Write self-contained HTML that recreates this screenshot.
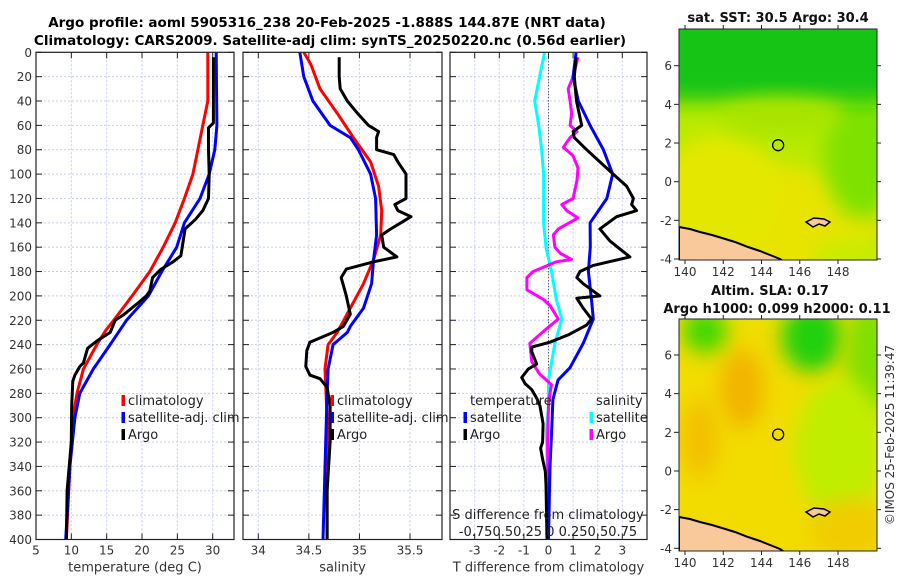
<!DOCTYPE html>
<html><head><meta charset="utf-8"><style>
html,body{margin:0;padding:0;background:#fff;}
svg{display:block;font-family:"DejaVu Sans","Liberation Sans",sans-serif;}
</style></head><body>
<svg id="chart" width="900" height="580" viewBox="0 0 900 580" xmlns="http://www.w3.org/2000/svg">
<defs>
<filter id="blur8" x="-50%" y="-50%" width="200%" height="200%"><feGaussianBlur stdDeviation="10"/></filter>
<clipPath id="clipMap1"><rect x="679" y="29" width="198" height="231"/></clipPath>
<clipPath id="clipMap2"><rect x="679" y="319" width="198" height="232"/></clipPath>
<clipPath id="clipP1"><rect x="36" y="52" width="198" height="488"/></clipPath>
<clipPath id="clipP2"><rect x="243" y="52" width="199" height="488"/></clipPath>
<clipPath id="clipP3"><rect x="450" y="52" width="197" height="488"/></clipPath>
</defs>
<text x="327" y="27" text-anchor="middle" font-size="13.5" font-weight="bold">Argo profile: aoml 5905316_238 20-Feb-2025 -1.888S 144.87E (NRT data)</text>
<text x="330" y="45" text-anchor="middle" font-size="13.5" font-weight="bold">Climatology: CARS2009. Satellite-adj clim: synTS_20250220.nc (0.56d earlier)</text>
<g id="g1"></g>
<g id="g2"></g>
<g id="g3"></g>
<g id="m1"></g>
<g id="m2"></g>
<text transform="translate(894,435) rotate(-90)" text-anchor="middle" font-size="12" fill="#333">©IMOS 25-Feb-2025 11:39:47</text>
</svg>
<script>
// ---------- data ----------
const depthTicks = [0,20,40,60,80,100,120,140,160,180,200,220,240,260,280,300,320,340,360,380,400];
const tTicks = [5,10,15,20,25,30];
const sTicks = [34,34.5,35,35.5];
const dTicks = [-3,-2,-1,0,1,2,3];

const tClimDepth = [0,40,60,80,100,120,140,160,180,200,220,228,240,260,280,300,340,400];
const tClim = [29.3,29.3,28.6,27.9,27.2,26.0,24.7,23.0,21.1,18.6,16.0,14.9,13.6,11.7,10.8,10.2,9.8,9.3];
const tSatDepth = [0,60,80,100,120,140,160,180,200,220,240,260,280,300,340,400];
const tSat = [30.5,30.6,30.3,29.5,28.2,26.0,24.9,22.8,20.9,17.8,15.5,13.1,11.2,10.5,9.8,9.2];
const tArgoDepth = [4,58,62,80,100,120,130,137,145,167,172,178,185,196,200,205,215,220,230,237,243,255,258,265,270,290,320,340,360,400];
const tArgo = [30.1,30.1,29.4,29.4,29.5,29.4,28.6,27.6,26.1,25.5,24.4,22.7,21.5,21.1,20.6,19.6,17.5,16.2,15.5,13.6,12.3,11.7,11.2,10.5,10.2,10.05,10.0,9.7,9.4,9.3];

const sClimDepth = [0,10,30,50,70,90,110,130,150,170,190,210,230,240,260,300,400];
const sClim = [34.45,34.52,34.61,34.78,34.94,35.11,35.19,35.22,35.21,35.14,35.04,34.91,34.78,34.69,34.66,34.68,34.68];
const sSatDepth = [0,10,20,40,60,70,80,100,120,150,170,190,210,225,230,240,260,280,400];
const sSat = [34.41,34.43,34.45,34.54,34.71,34.91,34.99,35.11,35.16,35.17,35.14,35.12,35.04,34.91,34.88,34.74,34.69,34.68,34.64];
const sArgoDepth = [4,20,30,40,50,60,65,70,80,84,90,100,120,125,130,135,145,150,160,168,172,178,185,200,215,225,230,238,245,258,265,268,275,290,320,360,400];
const sArgo = [34.80,34.80,34.81,34.88,34.98,35.09,35.19,35.17,35.17,35.34,35.38,35.46,35.46,35.35,35.38,35.51,35.31,35.22,35.24,35.37,35.14,34.87,34.82,34.87,34.91,34.84,34.74,34.51,34.48,34.47,34.51,34.61,34.68,34.71,34.71,34.68,34.68];

const dTSatDepth = [0,20,40,60,80,100,120,140,160,180,203,219,239,259,269,285,310,340,400];
const dTSat = [1.12,1.0,1.21,1.69,2.23,2.61,2.37,1.69,1.7,1.62,1.75,1.82,1.41,0.87,0.39,0.18,0.13,0.06,0];
const dTArgoDepth = [4,20,40,60,65,70,80,90,100,110,120,125,130,135,145,155,168,175,180,185,190,200,202,210,219,224,232,238,242,246,256,260,267,272,277,284,290,305,320,325,334,344,355,400];
const dTArgo = [1.12,1.05,1.14,1.35,1.0,1.05,1.55,2.09,2.63,3.18,3.45,3.38,3.58,2.77,2.09,2.5,3.31,1.82,1.28,1.15,1.41,2.09,1.15,1.41,1.75,1.55,0.8,0.06,-0.68,-0.68,-0.48,-0.82,-1.09,-0.95,-0.68,-0.48,-0.35,-0.22,-0.24,-0.32,-0.24,-0.13,-0.1,-0.06];
const dSSatDepth = [0,20,40,60,80,100,140,160,180,203,219,239,269,290,310,400];
const dSSat = [-0.04,-0.09,-0.14,-0.10,-0.07,-0.05,-0.05,-0.025,0.03,0.08,0.135,0.065,0,0,-0.02,0];
const dSArgoDepth = [4,20,30,40,50,60,65,70,78,85,95,105,120,125,130,136,145,150,160,165,170,172,180,185,195,203,208,219,227,239,254,264,273,280,290,320,400];
const dSArgo = [0.30,0.25,0.20,0.22,0.235,0.22,0.29,0.22,0.15,0.25,0.30,0.29,0.25,0.135,0.185,0.30,0.10,0.05,0.065,0.12,0.235,0.08,-0.155,-0.22,-0.22,-0.05,0.015,0.10,-0.02,-0.19,-0.17,-0.09,0.03,0.015,0,-0.01,0];

const lonTicks = [140,142,144,146,148];
const latTicks = [-4,-2,0,2,4,6];
const argoLon = 144.87, argoLat = 1.888;

// ---------- helpers ----------
const NS = "http://www.w3.org/2000/svg";
function mk(tag, attrs, parent){const e=document.createElementNS(NS,tag);for(const k in attrs)e.setAttribute(k,attrs[k]);parent.appendChild(e);return e;}
const Y0=52.3, Y1=539.5;
function yD(d){return Y0+(Y1-Y0)*d/400;}
function lin(d0,d1,r0,r1){return v=>r0+(v-d0)*(r1-r0)/(d1-d0);}

const xT = lin(5,30,36,212.7);
const xS = lin(34,35.5,258.3,410);
const xD = lin(0,3,548.5,622.3);
const xDS = v => xD(v*4);

function panel(g, x0, x1, xTickVals, xf, labels, xlabel, showDepth){
  for(const t of xTickVals){
    const x=xf(t);
    const l=mk('line',{x1:x,x2:x,y1:Y0,y2:Y1,stroke:'#c6cdf0','stroke-width':1,'stroke-dasharray':'2,2'},g);
    
    
  }
  for(const d of depthTicks){
    const y=yD(d);
    const l=mk('line',{x1:x0,x2:x1,y1:y,y2:y,stroke:'#c6cdf0','stroke-width':1,'stroke-dasharray':'2,2'},g);
    
    
    mk('line',{x1:x0,x2:x0+6,y1:y,y2:y,stroke:'#222','stroke-width':1},g);
    mk('line',{x1:x1-6,x2:x1,y1:y,y2:y,stroke:'#222','stroke-width':1},g);
    if(showDepth){
      const t=mk('text',{x:x0-4,y:y+4.5,'text-anchor':'end','font-size':12,fill:'#333'},g);
      t.textContent=d;
      
      
    }
  }
  xTickVals.forEach((t,i)=>{
    const x=xf(t);
    mk('line',{x1:x,x2:x,y1:Y1,y2:Y1-6,stroke:'#222','stroke-width':1},g);
    mk('line',{x1:x,x2:x,y1:Y0,y2:Y0+6,stroke:'#222','stroke-width':1},g);
    const tx=mk('text',{x:x,y:Y1+15,'text-anchor':'middle','font-size':12,fill:'#333'},g);
    tx.textContent=labels[i];
    
    
  });
  const xl=mk('text',{x:(x0+x1)/2,y:Y1+32,'text-anchor':'middle','font-size':13,fill:'#333'},g);
  xl.textContent=xlabel;
  
  
}
function frame(g,x0,x1){
  const r=mk('rect',{x:x0,y:Y0,width:x1-x0,height:Y1-Y0,fill:'none',stroke:'#222','stroke-width':1.2},g);
  
  
}
function line(g, depths, vals, xf, color, name, clip){
  const pts=depths.map((d,i)=>xf(vals[i]).toFixed(1)+','+yD(d).toFixed(1)).join(' ');
  const p=mk('polyline',{points:pts,fill:'none',stroke:color,'stroke-width':3,'stroke-linejoin':'round','clip-path':'url(#'+clip+')'},g);
  
  
}
function legend(g, x, y, color, label){
  mk('rect',{x:x-1.5,y:y-10,width:3.5,height:11,fill:color},g);
  const t=mk('text',{x:x+5,y:y,'font-size':13,fill:'#222'},g);
  t.textContent=label;
  
  
}

// panel 1
const g1=document.getElementById('g1');
panel(g1,36,234,tTicks,xT,tTicks.map(String),'temperature (deg C)',true);
line(g1,tClimDepth,tClim,xT,'#ff0000','climatology-temp-line','clipP1');
line(g1,tSatDepth,tSat,xT,'#0000ff','satellite-temp-line','clipP1');
line(g1,tArgoDepth,tArgo,xT,'#000000','argo-temp-line','clipP1');
frame(g1,36,234);
legend(g1,123,405,'#ff0000','climatology');
legend(g1,123,422,'#0000ff','satellite-adj. clim');
legend(g1,123,439,'#000000','Argo');

// panel 2
const g2=document.getElementById('g2');
panel(g2,243,442,sTicks,xS,['34','34.5','35','35.5'],'salinity',false);
line(g2,sClimDepth,sClim,xS,'#ff0000','climatology-salinity-line','clipP2');
line(g2,sSatDepth,sSat,xS,'#0000ff','satellite-salinity-line','clipP2');
line(g2,sArgoDepth,sArgo,xS,'#000000','argo-salinity-line','clipP2');
frame(g2,243,442);
legend(g2,332,405,'#ff0000','climatology');
legend(g2,332,422,'#0000ff','satellite-adj. clim');
legend(g2,332,439,'#000000','Argo');

// panel 3
const g3=document.getElementById('g3');
panel(g3,450,647,dTicks,xD,dTicks.map(String),'T difference from climatology',false);
mk('line',{x1:xD(0),x2:xD(0),y1:Y0,y2:Y1,stroke:'#333','stroke-width':1,'stroke-dasharray':'1,2'},g3);
line(g3,dSSatDepth,dSSat,xDS,'#00ffff','satellite-salinity-diff-line','clipP3');
line(g3,dSArgoDepth,dSArgo,xDS,'#ff00ff','argo-salinity-diff-line','clipP3');
line(g3,dTSatDepth,dTSat,xD,'#0000ff','satellite-temp-diff-line','clipP3');
line(g3,dTArgoDepth,dTArgo,xD,'#000000','argo-temp-diff-line','clipP3');
frame(g3,450,647);
(function(){
  let t=mk('text',{x:470,y:405,'font-size':13,fill:'#222'},g3);t.textContent='temperature';
  
  
  t=mk('text',{x:596,y:405,'font-size':13,fill:'#222'},g3);t.textContent='salinity';
  
  
  legend(g3,465,422,'#0000ff','satellite');
  legend(g3,465,439,'#000000','Argo');
  legend(g3,591,422,'#00ffff','satellite');
  legend(g3,591,439,'#ff00ff','Argo');
  t=mk('text',{x:548,y:519,'text-anchor':'middle','font-size':13,fill:'#222'},g3);t.textContent='S difference from climatology';
  
  
  t=mk('text',{x:548,y:536,'text-anchor':'middle','font-size':13,fill:'#222'},g3);t.textContent='-0.750.50.25 0  0.250.50.75';
  
  
})();

// maps
const lonX = lin(140,148,685,838);
function drawMap(g, top, bot, lat6y, latm4y, blobs, base, titles, clip){
  const latY = lin(6,-4,lat6y,latm4y);
  const bg=mk('rect',{x:679,y:top,width:198,height:bot-top,fill:base},g);
  
  
  const bl=mk('g',{'clip-path':'url(#'+clip+')'},g);
  for(const b of blobs){
    const e=mk(b.r?'rect':'ellipse',b.r?{x:b.x,y:top+b.y,width:b.w,height:b.h,fill:b.c,filter:'url(#blur8)'}:{cx:b.x,cy:top+b.y,rx:b.w,ry:b.h,fill:b.c,filter:'url(#blur8)'},bl);
    
    
  }
  const land=mk('polygon',{points:`679,${top+198} 690,${top+200} 700,${top+203} 712,${top+206} 722,${top+209} 735,${top+213} 748,${top+218} 760,${top+222} 770,${top+226} 780,${top+230} 786,${top+234} 679,${top+234}`,fill:'#f9c99c',stroke:'#000','stroke-width':2,'clip-path':'url(#'+clip+')'},g);
  
  
  const isl=mk('path',{d:`M806 ${top+193} l8 -4 l10 1 l6 3 l-5 4 l-6 -2 l-6 3 z`,fill:'#f9c99c',stroke:'#000','stroke-width':1.5},g);
  
  
  const c=mk('circle',{cx:lonX(argoLon),cy:latY(argoLat),r:5.5,fill:'none',stroke:'#000','stroke-width':1.3},g);
  
  
  mk('rect',{x:679,y:top,width:198,height:bot-top,fill:'none',stroke:'#222','stroke-width':1},g);
  for(const la of latTicks){
    const y=latY(la);
    mk('line',{x1:679,x2:674,y1:y,y2:y,stroke:'#222'},g);
    mk('line',{x1:877,x2:881,y1:y,y2:y,stroke:'#222'},g);
    const t=mk('text',{x:672,y:y+4.5,'text-anchor':'end','font-size':12,fill:'#333'},g);
    t.textContent=la;
    
    
  }
  for(const lo of lonTicks){
    const x=lonX(lo);
    mk('line',{x1:x,x2:x,y1:bot,y2:bot+4,stroke:'#222'},g);
    mk('line',{x1:x,x2:x,y1:top,y2:top-4,stroke:'#222'},g);
    const t=mk('text',{x:x,y:bot+16,'text-anchor':'middle','font-size':12,fill:'#333'},g);
    t.textContent=lo;
    
    
  }
  titles.forEach(tt=>{
    const t=mk('text',{x:tt[0],y:tt[1],'text-anchor':'middle','font-size':13,'font-weight':'bold',fill:'#111'},g);
    t.textContent=tt[2];
    
    
  });
}
drawMap(document.getElementById('m1'),29,260,65.7,259,[
  {x:760,y:195,w:120,h:60,c:'#e8e400'},
  {x:720,y:165,w:60,h:60,c:'#e4e800'},
  {x:862,y:125,w:38,h:65,c:'#7ee200'},
  {r:1,x:660,y:-20,w:240,h:92,c:'#14c414'},
  {x:780,y:88,w:60,h:18,c:'#a8e400'},
  {x:850,y:240,w:40,h:30,c:'#c8ec00'}
],'#b8ea00',[[778,22,'sat. SST: 30.5 Argo: 30.4']],'clipMap1');
drawMap(document.getElementById('m2'),319,551,355,548.3,[
  {r:1,x:660,y:0,w:240,h:260,c:'#f2dc00'},
  {x:742,y:70,w:22,h:40,c:'#f2b400'},
  {x:700,y:120,w:18,h:40,c:'#f2c000'},
  {x:812,y:18,w:30,h:35,c:'#20d010'},
  {x:705,y:12,w:22,h:22,c:'#40d800'},
  {x:870,y:40,w:25,h:60,c:'#80e000'},
  {x:840,y:130,w:45,h:70,c:'#c0ee00'},
  {x:850,y:210,w:40,h:30,c:'#f0cc00'}
],'#e8e400',[[770,295,'Altim. SLA: 0.17'],[777,313,'Argo h1000: 0.099 h2000: 0.11']],'clipMap2');
</script>
</body></html>
